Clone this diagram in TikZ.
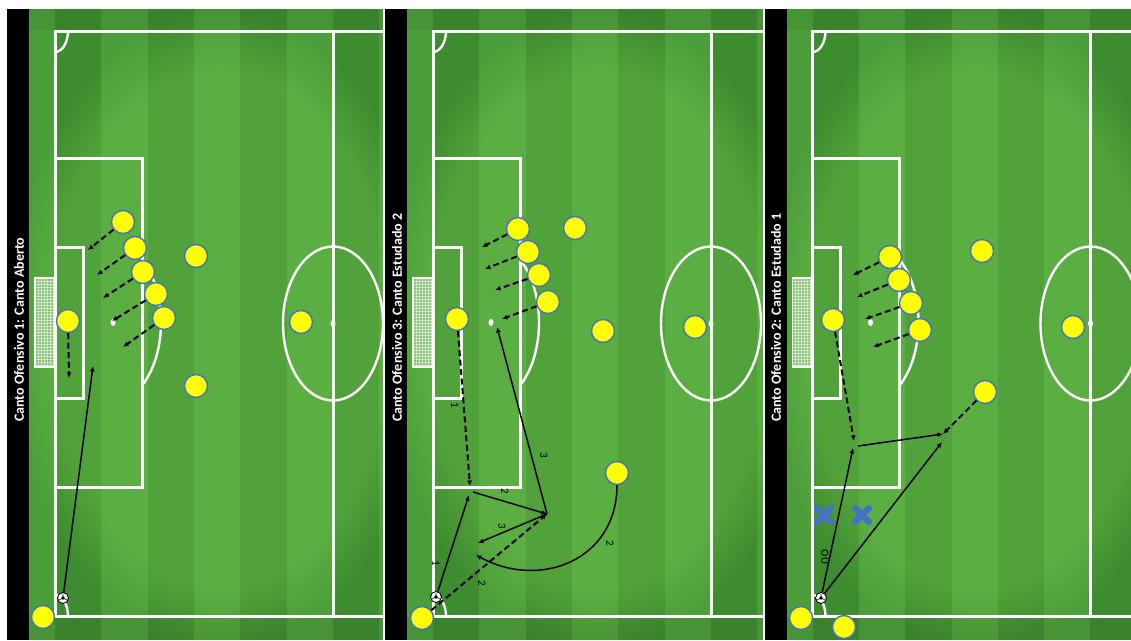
\documentclass[tikz,border=0pt]{standalone}
\usepackage{fontspec}
\setmainfont{Carlito}
\usetikzlibrary{arrows.meta,fadings}
\definecolor{grlight}{RGB}{76,158,58}
\definecolor{grdark}{RGB}{62,140,48}
\definecolor{grglow}{RGB}{120,205,80}
\definecolor{plblue}{RGB}{68,114,196}
\definecolor{plyellow}{RGB}{255,255,0}
\tikzset{
  player/.style={circle,fill=plyellow,draw=plblue,line width=1.4pt,minimum size=23pt,inner sep=0pt},
  ballnode/.style={circle,fill=white,draw=black,line width=0.9pt,minimum size=11pt,inner sep=0pt,
    path picture={\fill[black] (path picture bounding box.center) circle[radius=1.8pt];
      \draw[black,line width=0.6pt] (path picture bounding box.center) -- ++(0pt,4pt)
        (path picture bounding box.center) -- ++(-4pt,-2pt)
        (path picture bounding box.center) -- ++(4pt,-2pt);}},
  run/.style={draw=black,line width=2pt,dash pattern=on 6pt off 3.5pt,-{Latex[length=5.5pt,width=5pt]}},
  pass/.style={draw=black,line width=1.5pt,-{Latex[length=5.5pt,width=5pt]}},
  lbl/.style={font=\fontsize{11}{11}\selectfont,rotate=-90,inner sep=0pt,text=black},
  titletext/.style={font=\bfseries\fontsize{14}{15}\selectfont,text=white,rotate=90,anchor=west,inner sep=0pt},
  fieldline/.style={draw=white,line width=3pt},
  thinline/.style={draw=white,line width=2.4pt},
  xmark/.style={minimum size=21pt,inner sep=0pt,
    path picture={\draw[plblue,line width=6.5pt,line cap=round]
      ([shift={(3.5pt,-3.5pt)}]path picture bounding box.north west) -- ([shift={(-3.5pt,3.5pt)}]path picture bounding box.south east)
      ([shift={(-3.5pt,-3.5pt)}]path picture bounding box.north east) -- ([shift={(3.5pt,3.5pt)}]path picture bounding box.south west);}}
}
\newcommand\drawpitch[2]{%
\begin{scope}[shift={(#1,0)}]
  \begin{scope}
    \clip (29,9) rectangle (#2,640);
    \fill[grlight] (29,9) rectangle (#2,640);
    \foreach \k in {0,1,2,3}{\fill[grdark] ({55+2*\k*46.33},9) rectangle ({55+(2*\k+1)*46.33},640);}
    \fill[grglow,opacity=0.35,path fading=circle with fuzzy edge 20 percent] (220,330) ellipse [x radius=210pt,y radius=320pt];
    \fill[black,opacity=0.06] (29,9) rectangle (#2,30);
    \fill[black,opacity=0.06] (29,617) rectangle (#2,640);
    % goal net
    \fill[white,opacity=0.3] (35,278) rectangle (55,367);
    \foreach \yy in {281,284,...,365}{\draw[white,opacity=0.55,line width=0.4pt] (35,\yy) -- (55,\yy);}
    \foreach \xx in {38,41,...,53}{\draw[white,opacity=0.55,line width=0.4pt] (\xx,278) -- (\xx,367);}
    \draw[white,line width=1.6pt] (35,278) rectangle (55,367);
    % lines
    \draw[fieldline] (420,31) -- (55,31) -- (55,616) -- (420,616);
    \draw[fieldline] (333,31) -- (333,616);
    \draw[fieldline] (55,158) -- (142,158) -- (142,487) -- (55,487);
    \draw[fieldline] (55,247) -- (83,247) -- (83,398) -- (55,398);
    \draw[thinline] (141.9,385.6) arc[start angle=-53,end angle=53,x radius=48pt,y radius=79pt];
    \draw[thinline] (333,323.5) ellipse [x radius=50pt,y radius=77pt];
    \fill[white] (333,323.5) ellipse [x radius=2.5pt,y radius=3.5pt];
    \fill[white] (113,322.5) ellipse [x radius=2.5pt,y radius=3.5pt];
    \draw[thinline] (68,31) arc[start angle=0,end angle=-90,x radius=13pt,y radius=21pt];
    \draw[thinline] (55,595) arc[start angle=90,end angle=0,x radius=13pt,y radius=21pt];
  \end{scope}
  \fill[black] (7,9) rectangle (29,640);
\end{scope}}
\begin{document}
\begin{tikzpicture}[x=1pt,y=-1pt]
\useasboundingbox (0,0) rectangle (1131,640);
\fill[white] (0,0) rectangle (1131,640);
\drawpitch{0}{383}
\drawpitch{378}{385}
\drawpitch{757.5}{374}

\node[titletext] (t1) at (19,422) {Canto Ofensivo 1: Canto Aberto};
\node[titletext] (t2) at (397,422) {Canto Ofensivo 3: Canto Estudado 2};
\node[titletext] (t3) at (776,422) {Canto Ofensivo 2: Canto Estudado 1};

% ---------- Panel 1 ----------
\node[player] (p1a) at (123,222) {};
\node[player] (p1b) at (135,248) {};
\node[player] (p1c) at (143,272) {};
\node[player] (p1d) at (156,294) {};
\node[player] (p1e) at (164,318) {};
\node[player] (p1f) at (196,256) {};
\node[player] (p1g) at (68,321) {};
\node[player] (p1h) at (301,322) {};
\node[player] (p1i) at (196,386) {};
\node[player] (p1k) at (43,617) {};
\node[ballnode] (b1) at (63,598) {};
\coordinate (e1a) at (88,250);
\coordinate (e1b) at (97,275);
\coordinate (e1c) at (103,298);
\coordinate (e1d) at (112,321);
\coordinate (e1e) at (123,347);
\coordinate (e1g) at (69,378);
\coordinate (e1s) at (93,366);
\draw[run] (p1a) -- (e1a);
\draw[run] (p1b) -- (e1b);
\draw[run] (p1c) -- (e1c);
\draw[run] (p1d) -- (e1d);
\draw[run] (p1e) -- (e1e);
\draw[run] (p1g) -- (e1g);
\draw[pass] (b1) -- (e1s);

% ---------- Panel 2 ----------
\node[player] (p2a) at (518,229) {};
\node[player] (p2b) at (528,252) {};
\node[player] (p2c) at (539,275) {};
\node[player] (p2d) at (548,302) {};
\node[player] (p2e) at (575,228) {};
\node[player] (p2f) at (457,319) {};
\node[player] (p2g) at (603,331) {};
\node[player] (p2h) at (695,327) {};
\node[player] (p2i) at (617,473) {};
\node[player] (p2k) at (422,618) {};
\node[ballnode] (b2) at (436,597) {};
\coordinate (e2a) at (482,247);
\coordinate (e2b) at (485,269);
\coordinate (e2c) at (495,290);
\coordinate (e2d) at (502,319);
\coordinate (e2f) at (470,486);
\coordinate (m2a) at (469,495);
\coordinate (m2s) at (473,492);
\coordinate (m2b) at (547,514);
\coordinate (e2h) at (497,327);
\coordinate (e2k) at (478,543);
\coordinate (e2q) at (476,555);
\draw[run] (p2a) -- (e2a);
\draw[run] (p2b) -- (e2b);
\draw[run] (p2c) -- (e2c);
\draw[run] (p2d) -- (e2d);
\draw[run] (p2f) -- (e2f);
\draw[pass] (b2) -- (m2a);
\draw[pass] (m2s) -- (m2b);
\draw[pass] (m2b) -- (e2h);
\draw[pass] (m2b) -- (e2k);
\draw[run] (p2k) -- (m2b);
\draw[pass] (p2i.south) .. controls (617,560) and (540,590) .. (e2q);
\node[lbl] (l2a) at (455,405) {1};
\node[lbl] (l2b) at (436,563) {1};
\node[lbl] (l2c) at (505,491) {2};
\node[lbl] (l2d) at (544,455) {3};
\node[lbl] (l2e) at (502,526) {3};
\node[lbl] (l2f) at (482,583) {2};
\node[lbl] (l2g) at (610,543) {2};

% ---------- Panel 3 ----------
\node[player] (p3a) at (890,257) {};
\node[player] (p3b) at (899,280) {};
\node[player] (p3c) at (911,303) {};
\node[player] (p3d) at (920,330) {};
\node[player] (p3e) at (982,251) {};
\node[player] (p3f) at (833,320) {};
\node[player] (p3g) at (1073,327) {};
\node[player] (p3h) at (985,392) {};
\node[player] (p3k) at (801,618) {};
\node[player] (p3m) at (844,627) {};
\node[ballnode] (b3) at (821,598) {};
\node[xmark] (x1) at (824,515) {};
\node[xmark] (x2) at (862,515) {};
\coordinate (e3a) at (853,275);
\coordinate (e3b) at (857,297);
\coordinate (e3c) at (865,319);
\coordinate (e3d) at (873,347);
\coordinate (m3a) at (854,441);
\coordinate (m3p) at (853,448);
\coordinate (m3s) at (858,446);
\coordinate (m3b) at (943,434);
\coordinate (m3c) at (942,442);
\draw[run] (p3a) -- (e3a);
\draw[run] (p3b) -- (e3b);
\draw[run] (p3c) -- (e3c);
\draw[run] (p3d) -- (e3d);
\draw[run] (p3f) -- (m3a);
\draw[run] (p3h) -- (m3b);
\draw[pass] (m3s) -- (m3b);
\draw[pass] (b3) -- (m3p);
\draw[pass] (b3) -- (m3c);
\node[lbl] (l3) at (825,557) {OU};
\end{tikzpicture}
\end{document}
